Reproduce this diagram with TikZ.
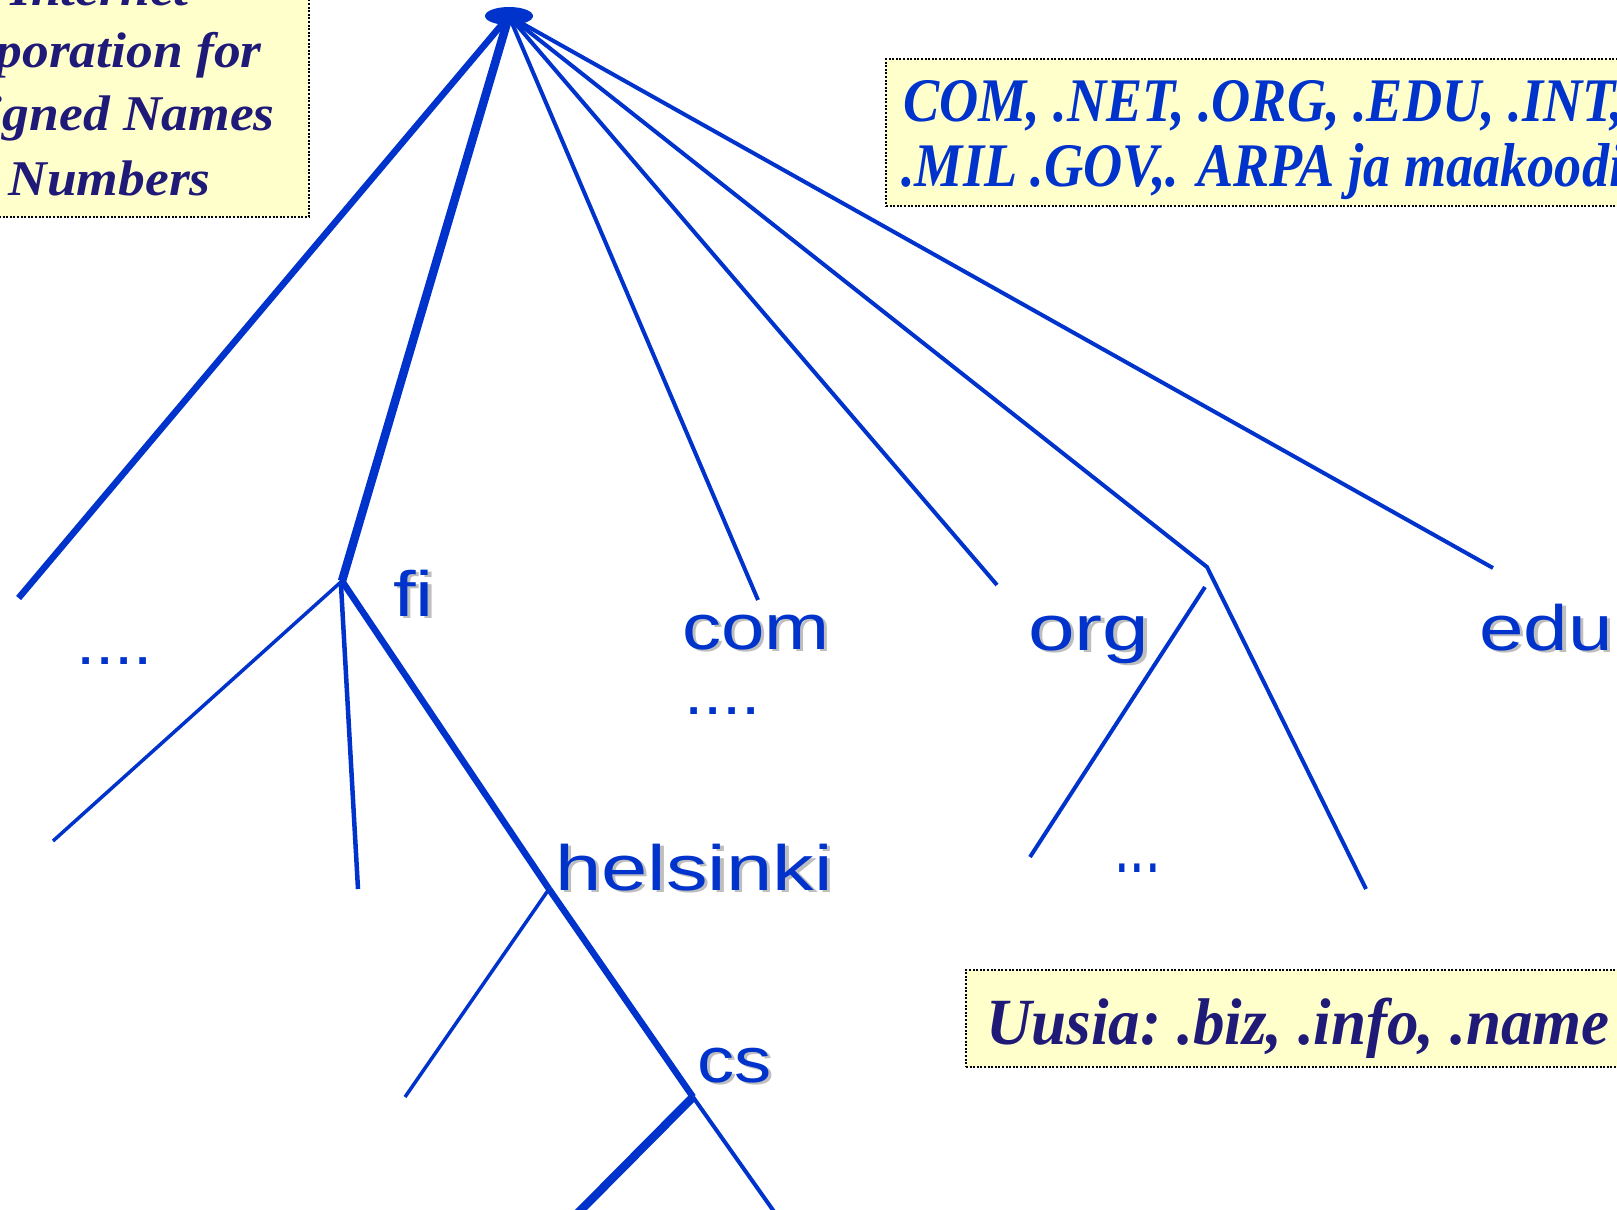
\documentclass[tikz,border=0pt]{standalone}
\usepackage{fontspec}
\setmainfont{Liberation Serif}
\newfontfamily\labelfont{Liberation Sans}
\usetikzlibrary{shapes.geometric}

\definecolor{treeblue}{RGB}{0,51,204}
\definecolor{notenavy}{RGB}{31,26,120}
\definecolor{notefill}{RGB}{255,255,204}
\definecolor{shadowgray}{RGB}{190,190,190}

% label text with a soft drop shadow
\newcommand\shadowtext[1]{\makebox[0pt][l]{\kern2pt\raisebox{-2pt}{\textcolor{shadowgray}{#1}}}#1}

\tikzset{
  branch/.style={draw=treeblue, line width={#1*0.75pt}},
  tld/.style={inner sep=0pt, anchor=base west, text=treeblue,
              font=\labelfont\fontsize{48}{48}\selectfont},
  ellip/.style={inner sep=0pt, anchor=base west, text=treeblue,
              font=\labelfont\fontsize{#1}{#1}\selectfont},
  notebox/.style={draw=black, fill=notefill, line width=1.5pt,
                  dash pattern=on 1.5pt off 1.2pt, inner sep=0pt},
  noteline/.style={inner sep=0pt, text=#1,
                   font=\bfseries\itshape\fontsize{37.5}{37.5}\selectfont},
}

\begin{document}
\begin{tikzpicture}[x=0.75pt, y=-0.75pt]
\useasboundingbox (0,0) rectangle (1617,1210);
\clip (0,0) rectangle (1617,1210);

% ---- note boxes ----
\node[notebox, anchor=south east, minimum width=400*0.75pt, minimum height=300*0.75pt]
  (icann) at (310,218) {};
\node[noteline=notenavy, anchor=base east] (icann1) at (189,5) {\scalebox{1.07}[1]{Internet}};
\node[noteline=notenavy, anchor=base east] (icann2) at (262,67) {\scalebox{1.07}[1]{Corporation for}};
\node[noteline=notenavy, anchor=base east] (icann3) at (275,130) {\scalebox{1.07}[1]{Assigned Names}};
\node[noteline=notenavy, anchor=base east] (icann4) at (211,195) {\scalebox{1.07}[1]{and Numbers}};

\node[notebox, anchor=north west, minimum width=800*0.75pt, minimum height=147*0.75pt]
  (gtld) at (885,58) {};
\node[noteline=treeblue, anchor=base west, font=\bfseries\itshape\fontsize{46.5}{46.5}\selectfont]
  (gtld1) at (903,121) {\scalebox{0.875}[1]{COM, .NET, .ORG, .EDU, .INT,}};
\node[noteline=treeblue, anchor=base west, font=\bfseries\itshape\fontsize{46.5}{46.5}\selectfont]
  (gtld2) at (901,186) {\scalebox{0.875}[1]{.MIL .GOV,. ARPA ja maakoodit}};

\node[notebox, anchor=north west, minimum width=800*0.75pt, minimum height=97*0.75pt]
  (newtld) at (965,969) {};
\node[noteline=notenavy, anchor=base west, font=\bfseries\itshape\fontsize{49.5}{49.5}\selectfont]
  (newtld1) at (986,1044) {\scalebox{0.955}[1]{Uusia:\kern-4pt{} .biz, .info, .name}};

% ---- tree points ----
\coordinate (leftEnd) at (18.6,598);
\coordinate (fi) at (342,581);
\coordinate (comEnd) at (758,600);
\coordinate (orgEnd) at (997,585);
\coordinate (split) at (1207,567);
\coordinate (eduEnd) at (1493,568);
\coordinate (splitB) at (1205,587);
\coordinate (splitL) at (1030,857);
\coordinate (splitR) at (1366,889);
\coordinate (fiL) at (53,841);
\coordinate (fiM0) at (341,585);
\coordinate (fiM) at (358,889);
\coordinate (hel) at (549,889);
\coordinate (helL) at (405,1097);
\coordinate (cs) at (693,1097);
\coordinate (csL) at (571,1220);
\coordinate (csR) at (780,1220);
\coordinate (rootC) at (509,16);

% ---- connectors ----
\draw[branch=6.5] (rootC) -- (leftEnd);
\draw[branch=8.5] (rootC) -- (fi);
\draw[branch=4]   (rootC) -- (comEnd);
\draw[branch=4]   (rootC) -- (orgEnd);
\draw[branch=4]   (rootC) -- (split) -- (splitR);
\draw[branch=4]   (splitB) -- (splitL);
\draw[branch=4]   (rootC) -- (eduEnd);
\draw[branch=3.5] (fi) -- (fiL);
\draw[branch=4.5] (fiM0) -- (fiM);
\draw[branch=6.5] (fi) -- (hel);
\draw[branch=3.5] (hel) -- (helL);
\draw[branch=6.5] (hel) -- (cs);
\draw[branch=8.5] (cs) -- (csL);
\draw[branch=4]   (cs) -- (csR);

\node[ellipse, fill=treeblue, minimum width=48*0.75pt, minimum height=18*0.75pt, inner sep=0pt]
  (root) at (rootC) {};

% ---- labels ----
\node[tld] (fiLabel)  at (393,616)  {\scalebox{1.27}[1]{\shadowtext{fi}}};
\node[tld] (comLabel) at (682,649)  {\scalebox{1.22}[1]{\shadowtext{com}}};
\node[tld] (orgLabel) at (1028,650) {\scalebox{1.31}[1]{\shadowtext{org}}};
\node[tld] (eduLabel) at (1479,650) {\scalebox{1.25}[1]{\shadowtext{edu}}};
\node[tld] (helLabel) at (555,890)  {\scalebox{1.30}[1]{\shadowtext{helsinki}}};
\node[tld] (csLabel)  at (697,1082) {\scalebox{1.16}[1]{\shadowtext{cs}}};

\node[ellip=48] (dotsA) at (76,664)   {\scalebox{1.08}[1]{....}};
\node[ellip=48] (dotsB) at (684,714)  {\scalebox{1.08}[1]{....}};
\node[ellip=60] (dotsC) at (1114,872) {\scalebox{0.7}[1]{...}};
\end{tikzpicture}
\end{document}
